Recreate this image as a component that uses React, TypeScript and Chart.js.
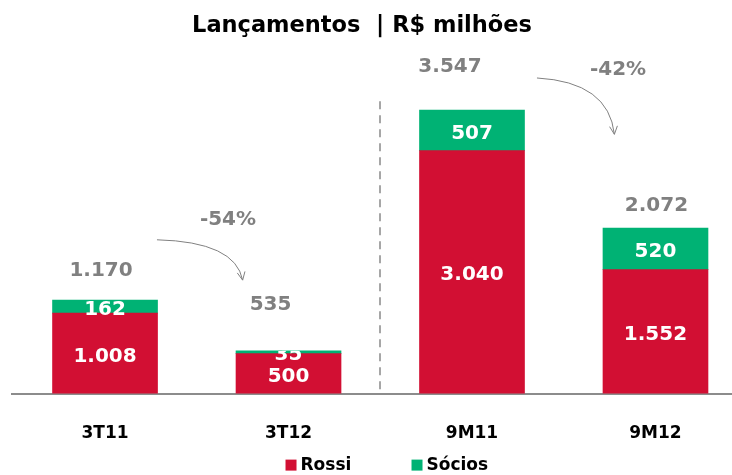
import React, { useEffect, useRef } from "react";
import { Chart, registerables } from "chart.js";

Chart.register(...registerables);

const title = "Lançamentos  | R$ milhões";
const categories = ["3T11", "3T12", "9M11", "9M12"];
const rossi = [1008, 500, 3040, 1552];
const socios = [162, 35, 507, 520];
const totals = [1170, 535, 3547, 2072];
const changeLabels = ["-54%", "-42%"];
const seriesNames = ["Rossi", "Sócios"];

const RED = "#D20F33";
const GREEN = "#00B274";
const GRAY = "#808080";
const FONT = "'DejaVu Sans', Verdana, sans-serif";

const fmt = (n: number) => String(n).replace(/\B(?=(\d{3})+(?!\d))/g, ".");

// label layout (pixel offsets relative to the bar tops)
const totalOffsets = [
  { dx: -4, dy: 29 },
  { dx: -18, dy: 46 },
  { dx: -22, dy: 43 },
  { dx: 1, dy: 22 },
];

// arrows in data space [x index, y value]
const arrows = [
  { from: [0.283, 1925], ctrl: [0.71, 1900], to: [0.75, 1420], label: [0.67, 2175] },
  { from: [2.354, 3950], ctrl: [2.745, 3900], to: [2.776, 3245], label: [2.796, 4050] },
];

const annotationPlugin = {
  id: "annotations",
  afterDatasetsDraw(chart: any) {
    const { ctx, scales } = chart;
    const xs = scales.x;
    const ys = scales.y;
    const m0 = chart.getDatasetMeta(0);
    const m1 = chart.getDatasetMeta(1);

    ctx.save();
    // segment labels
    ctx.font = `bold 20px ${FONT}`;
    ctx.fillStyle = "#ffffff";
    ctx.textAlign = "center";
    ctx.textBaseline = "middle";
    categories.forEach((_, i) => {
      const r: any = m0.data[i];
      const s: any = m1.data[i];
      const half = 53;
      ctx.save();
      ctx.beginPath();
      ctx.rect(r.x - half, s.y, half * 2, r.base - s.y);
      ctx.clip();
      ctx.fillText(fmt(socios[i]), s.x, (s.y + s.base) / 2 + 3);
      ctx.fillText(fmt(rossi[i]), r.x, (r.y + r.base) / 2 + 3);
      ctx.restore();
    });

    // totals
    ctx.fillStyle = GRAY;
    categories.forEach((_, i) => {
      const s: any = m1.data[i];
      const o = totalOffsets[i];
      ctx.fillText(fmt(totals[i]), s.x + o.dx, s.y - o.dy);
    });

    // arrows
    ctx.strokeStyle = GRAY;
    ctx.lineWidth = 1;
    arrows.forEach((a, k) => {
      const fx = xs.getPixelForValue(a.from[0]);
      const fy = ys.getPixelForValue(a.from[1]);
      const cx = xs.getPixelForValue(a.ctrl[0]);
      const cy = ys.getPixelForValue(a.ctrl[1]);
      const tx = xs.getPixelForValue(a.to[0]);
      const ty = ys.getPixelForValue(a.to[1]);
      ctx.beginPath();
      ctx.moveTo(fx, fy);
      ctx.quadraticCurveTo(cx, cy, tx, ty);
      ctx.stroke();
      const ang = Math.atan2(ty - cy, tx - cx);
      const len = 9;
      ctx.beginPath();
      ctx.moveTo(tx - len * Math.cos(ang - 0.45), ty - len * Math.sin(ang - 0.45));
      ctx.lineTo(tx, ty);
      ctx.lineTo(tx - len * Math.cos(ang + 0.45), ty - len * Math.sin(ang + 0.45));
      ctx.stroke();
      ctx.fillStyle = GRAY;
      ctx.font = `bold 20px ${FONT}`;
      ctx.fillText(changeLabels[k], xs.getPixelForValue(a.label[0]), ys.getPixelForValue(a.label[1]));
    });

    // dashed separator
    ctx.strokeStyle = "#a6a6a6";
    ctx.lineWidth = 2;
    ctx.setLineDash([8, 6]);
    ctx.beginPath();
    const sx = Math.round(xs.getPixelForValue(1.5));
    ctx.moveTo(sx, ys.getPixelForValue(3660));
    ctx.lineTo(sx, ys.getPixelForValue(0));
    ctx.stroke();
    ctx.setLineDash([]);

    // title
    ctx.fillStyle = "#000000";
    ctx.font = `bold 22.5px ${FONT}`;
    ctx.textBaseline = "middle";
    ctx.fillText(title, (chart.width - 8) / 2, 26);

    // legend
    ctx.font = `bold 17px ${FONT}`;
    ctx.textAlign = "left";
    const colors = [RED, GREEN];
    const starts = [xs.getPixelForValue(1) - 3, xs.getPixelForValue(1) + 123];
    const ly = chart.chartArea.bottom + 71;
    seriesNames.forEach((name, k) => {
      ctx.fillStyle = colors[k];
      ctx.fillRect(starts[k], ly - 5, 11, 11);
      ctx.fillStyle = "#000000";
      ctx.fillText(name, starts[k] + 15, ly + 1);
    });
    ctx.restore();
  },
};

export default function App() {
  const ref = useRef<HTMLCanvasElement>(null);
  useEffect(() => {
    document.body.style.margin = "0";
    const chart = new Chart(ref.current as HTMLCanvasElement, {
      type: "bar",
      data: {
        datasets: [
          {
            label: seriesNames[0],
            data: rossi.map((v, i) => ({ x: i, y: v })),
            backgroundColor: RED,
            barThickness: 105,
          },
          {
            label: seriesNames[1],
            data: socios.map((v, i) => ({ x: i, y: v })),
            backgroundColor: GREEN,
            barThickness: 105,
          },
        ],
      } as any,
      options: {
        animation: false,
        responsive: false,
        layout: { padding: { left: 12, right: 0, top: 58, bottom: 1 } },
        plugins: {
          legend: { display: false },
          title: { display: false },
          tooltip: { enabled: false },
        },
        scales: {
          x: {
            type: "linear",
            stacked: true,
            offset: false,
            bounds: "data",
            min: -0.507,
            max: 3.417,
            grid: { display: false, drawTicks: false, offset: false },
            border: { display: true, color: "#8c8c8c", width: 2 },
            afterBuildTicks: (s: any) => {
              s.ticks = categories.map((_, i) => ({ value: i }));
            },
            ticks: {
              autoSkip: false,
              maxRotation: 0,
              padding: 30,
              color: "#000000",
              font: { family: FONT, size: 17, weight: "bold" },
              callback: (v: any) => categories[v] ?? "",
            },
          },
          y: { stacked: true, display: false, min: 0, max: 4200 },
        },
      } as any,
      plugins: [annotationPlugin],
    });
    return () => chart.destroy();
  }, []);
  return <canvas ref={ref} width={732} height={475} style={{ display: "block" }} />;
}
